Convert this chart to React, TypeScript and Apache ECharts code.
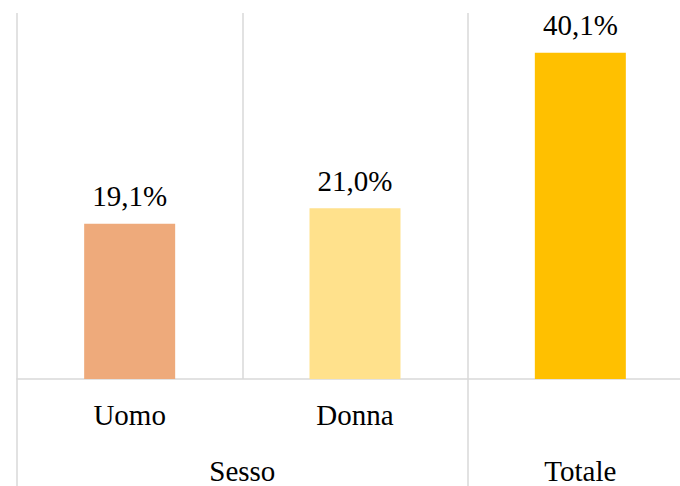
import React, { useEffect, useRef } from "react";
import * as echarts from "echarts";

const categories = ["Uomo", "Donna", ""];
const values = [19.1, 21.0, 40.1];
const barColors = ["#EEAA7B", "#FFE18C", "#FFC000"];
const groupLabels: Record<string, string> = { "1": "Sesso", "2.5": "Totale" };

const FONT = "Liberation Serif";
const GRID_COLOR = "#D9D9D9";

export default function App() {
  const ref = useRef<HTMLDivElement>(null);
  useEffect(() => {
    if (!ref.current) return;
    const chart = echarts.init(ref.current, null, { renderer: "svg" });
    chart.setOption({
      animation: false,
      backgroundColor: "#ffffff",
      grid: {
        left: 17,
        top: 13,
        width: 676,
        height: 366,
        containLabel: false,
        outerBoundsMode: "none",
      },
      xAxis: [
        {
          type: "category",
          data: categories,
          position: "bottom",
          boundaryGap: true,
          axisLine: { show: true, lineStyle: { color: GRID_COLOR, width: 1.5 } },
          axisTick: {
            show: true,
            length: 110,
            interval: (index: number) => index !== 1,
            lineStyle: { color: GRID_COLOR, width: 1.5 },
          },
          splitLine: { show: true, interval: 0, lineStyle: { color: GRID_COLOR, width: 1.5 } },
          axisLabel: { interval: 0, margin: 21, fontFamily: FONT, fontSize: 29, color: "#000" },
        },
        {
          type: "value",
          min: 0,
          max: 3,
          interval: 0.5,
          position: "bottom",
          axisLine: { show: false },
          axisTick: { show: false },
          splitLine: { show: false },
          axisLabel: {
            margin: 77,
            fontFamily: FONT,
            fontSize: 29,
            color: "#000",
            formatter: (v: number) => groupLabels[String(v)] ?? "",
          },
        },
      ],
      yAxis: { type: "value", min: 0, max: 45, show: false, splitLine: { show: false } },
      series: [
        {
          type: "bar",
          xAxisIndex: 0,
          barWidth: 91,
          data: values.map((v, i) => ({ value: v, itemStyle: { color: barColors[i] } })),
          label: {
            show: true,
            position: "top",
            distance: 13,
            fontFamily: FONT,
            fontSize: 29,
            color: "#000",
            formatter: (p: any) => p.value.toFixed(1).replace(".", ",") + "%",
          },
        },
      ],
    });
    return () => chart.dispose();
  }, []);
  return (
    <div
      ref={ref}
      style={{ position: "fixed", left: 0, top: 0, width: 680, height: 486 }}
    />
  );
}
